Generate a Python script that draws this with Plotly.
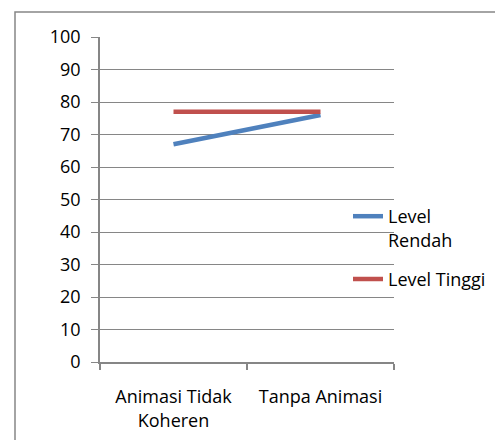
import plotly.graph_objects as go

categories = ["Animasi Tidak<br>Koheren", "Tanpa Animasi"]
level_rendah = [67, 76]
level_tinggi = [77, 77]
y_ticks = [0, 10, 20, 30, 40, 50, 60, 70, 80, 90, 100]

W, H = 495, 440
L, T = 100, 37
pw, ph = 294, 325
R, B = W - L - pw, H - T - ph

def px_x(p):
    return (p - L) / pw

def px_y(p):
    return (T + ph - p) / ph

font = dict(family="Open Sans, Lato, sans-serif", size=18, color="#000000")

fig = go.Figure()
fig.add_trace(go.Scatter(x=categories, y=level_rendah, mode="lines", name="Level<br>Rendah",
                         line=dict(color="#4F81BD", width=4.5)))
fig.add_trace(go.Scatter(x=categories, y=level_tinggi, mode="lines", name="Level Tinggi",
                         line=dict(color="#C0504D", width=4.5)))

fig.update_layout(
    width=W, height=H,
    margin=dict(l=L, r=R, t=T, b=B, autoexpand=False),
    paper_bgcolor="white", plot_bgcolor="white",
    font=font,
    showlegend=True,
    legend=dict(x=px_x(348), y=px_y(198), xanchor="left", yanchor="top",
                bgcolor="rgba(0,0,0,0)", font=font, itemwidth=30,
                tracegroupgap=13, valign="top"),
    xaxis=dict(type="category", range=[-0.5, 1.5], showgrid=False,
               showline=True, linecolor="#868686", linewidth=1.5,
               ticks="outside", ticklen=6, tickcolor="#868686", tickwidth=1.5,
               tickson="boundaries", ticklabelstandoff=18, fixedrange=True),
    yaxis=dict(range=[0, 100], tickvals=y_ticks, showgrid=True,
               gridcolor="#868686", gridwidth=1.2, zeroline=False,
               showline=True, linecolor="#868686", linewidth=1.5,
               ticks="outside", ticklen=7, tickcolor="#868686", tickwidth=1.2,
               ticklabelstandoff=7, fixedrange=True),
    shapes=[dict(type="rect", xref="paper", yref="paper",
                 x0=px_x(15), x1=px_x(520), y0=px_y(470), y1=px_y(12),
                 line=dict(color="#868686", width=1.5), fillcolor="rgba(0,0,0,0)", layer="below")],
)
fig.data[0].legendgroup = "a"
fig.data[1].legendgroup = "b"

fig.write_html("out.html", config={"displayModeBar": False},
               post_script="document.body.style.margin='0';document.body.style.overflow='hidden';")
